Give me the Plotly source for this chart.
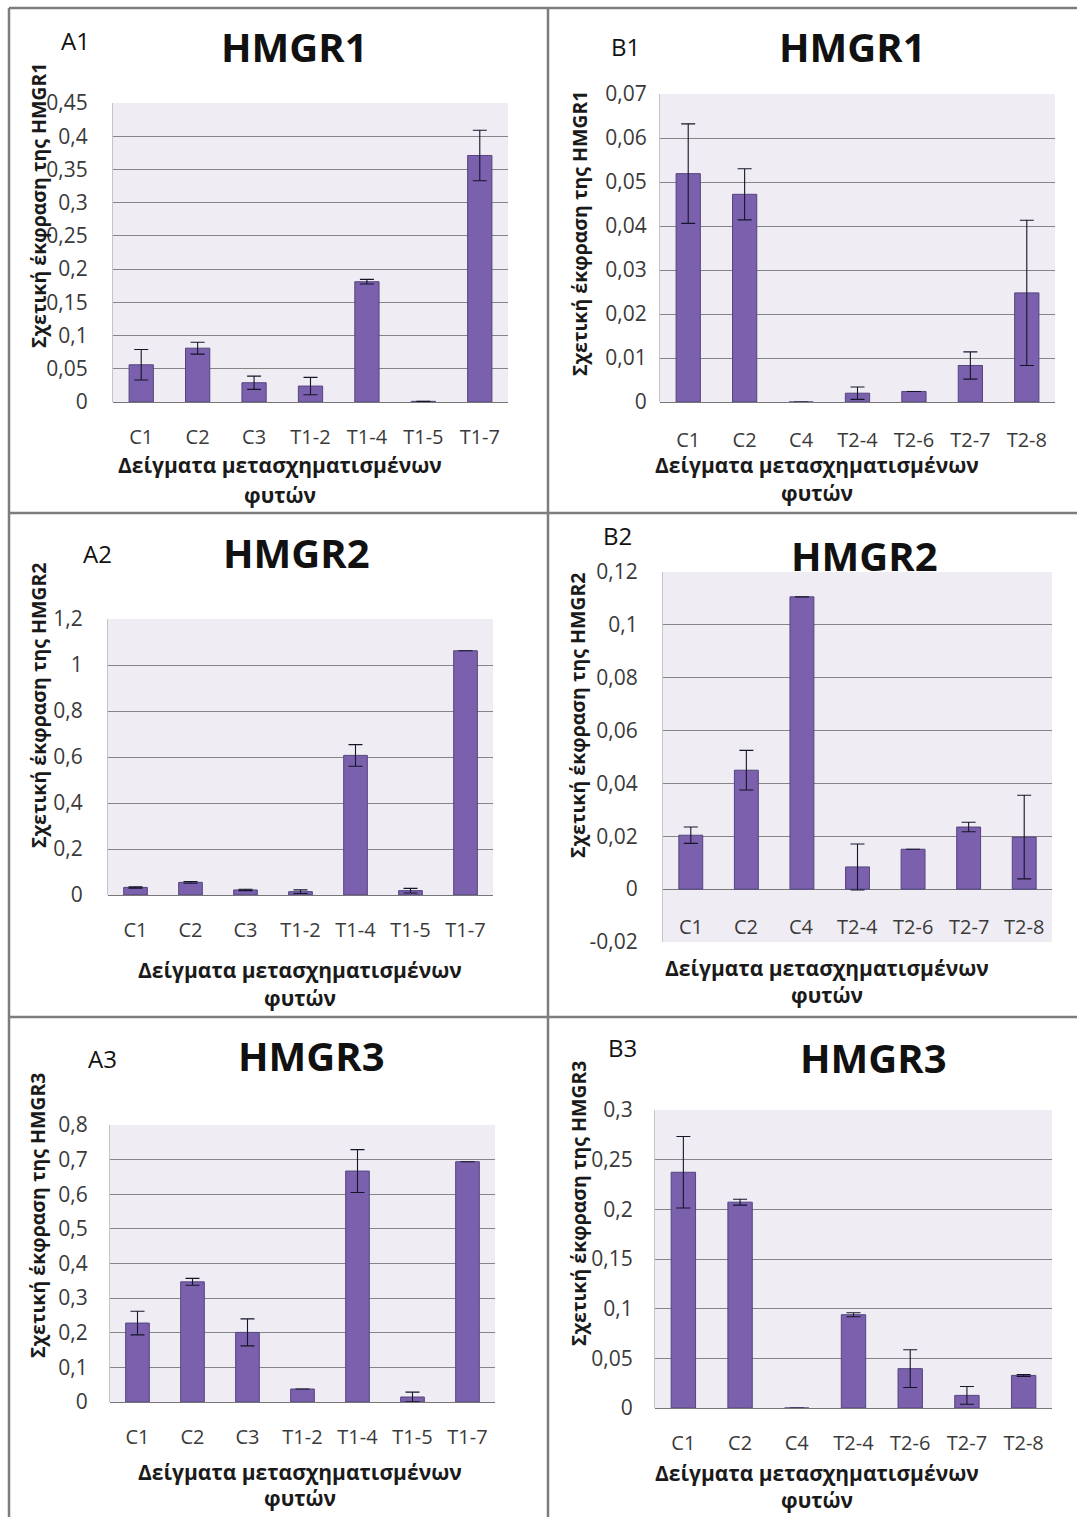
import plotly.graph_objects as go

W, H = 1077, 1517

# ---------------- data ----------------
cats_A = ["C1", "C2", "C3", "T1-2", "T1-4", "T1-5", "T1-7"]
cats_B = ["C1", "C2", "C4", "T2-4", "T2-6", "T2-7", "T2-8"]

a1_vals = [0.056, 0.081, 0.029, 0.024, 0.181, 0.001, 0.371]
a1_err = [0.023, 0.009, 0.010, 0.013, 0.0035, 0.0, 0.038]

b1_vals = [0.0519, 0.0472, 0.0, 0.0020, 0.0024, 0.0083, 0.0248]
b1_err = [0.0113, 0.0058, 0.0, 0.0014, 0.0, 0.0031, 0.0165]

a2_vals = [0.033, 0.055, 0.022, 0.0145, 0.607, 0.019, 1.062]
a2_err = [0.003, 0.004, 0.003, 0.008, 0.047, 0.010, 0.0]

b2_vals = [0.0204, 0.0450, 0.1106, 0.0084, 0.0151, 0.0235, 0.0197]
b2_err = [0.0031, 0.0075, 0.0, 0.0087, 0.0, 0.0018, 0.0158]

a3_vals = [0.228, 0.347, 0.201, 0.0375, 0.667, 0.0144, 0.694]
a3_err = [0.034, 0.010, 0.039, 0.0, 0.062, 0.014, 0.0]

b3_vals = [0.2373, 0.2072, 0.0, 0.0939, 0.0396, 0.0127, 0.0328]
b3_err = [0.036, 0.003, 0.0, 0.002, 0.019, 0.009, 0.001]

a1_ticks = [0, 0.05, 0.1, 0.15, 0.2, 0.25, 0.3, 0.35, 0.4, 0.45]
b1_ticks = [0, 0.01, 0.02, 0.03, 0.04, 0.05, 0.06, 0.07]
a2_ticks = [0, 0.2, 0.4, 0.6, 0.8, 1, 1.2]
b2_ticks = [-0.02, 0, 0.02, 0.04, 0.06, 0.08, 0.1, 0.12]
a3_ticks = [0, 0.1, 0.2, 0.3, 0.4, 0.5, 0.6, 0.7, 0.8]
b3_ticks = [0, 0.05, 0.1, 0.15, 0.2, 0.25, 0.3]

titles = ["HMGR1", "HMGR1", "HMGR2", "HMGR2", "HMGR3", "HMGR3"]
panel_labels = ["A1", "B1", "A2", "B2", "A3", "B3"]
y_titles = ["Σχετική έκφραση της HMGR1", "Σχετική έκφραση της HMGR1",
            "Σχετική έκφραση της HMGR2", "Σχετική έκφραση της HMGR2",
            "Σχετική έκφραση της HMGR3", "Σχετική έκφραση της HMGR3"]
x_title_1 = "Δείγματα μετασχηματισμένων"
x_title_2 = "φυτών"

# ---------------- layout (pixel geometry) ----------------
FONT = "Open Sans, Liberation Sans, sans-serif"
BAR = "#7a60ad"
BAR_LINE = "#54457e"
TICK_COL = "#3a3a3a"

panels = [
    dict(cats=cats_A, vals=a1_vals, err=a1_err, ticks=a1_ticks,
         box=(113, 103, 508, 402), ytpad=24, xtpad=21,
         title=(294, 47), lab=(75, 40), ytitle=(39, 205), xt=(280, 465, 495)),
    dict(cats=cats_B, vals=b1_vals, err=b1_err, ticks=b1_ticks,
         box=(660, 94, 1055, 402), ytpad=12, xtpad=24,
         title=(852, 47), lab=(625, 46), ytitle=(580, 233), xt=(817, 465, 493)),
    dict(cats=cats_A, vals=a2_vals, err=a2_err, ticks=a2_ticks,
         box=(108, 619, 493, 895), ytpad=24, xtpad=21,
         title=(296, 552), lab=(97, 553), ytitle=(38, 705), xt=(300, 970, 998)),
    dict(cats=cats_B, vals=b2_vals, err=b2_err, ticks=b2_ticks,
         box=(663, 572, 1052, 942), ytpad=24, xtpad=21,
         title=(864, 555), lab=(617, 535), ytitle=(577, 715), xt=(827, 968, 995)),
    dict(cats=cats_A, vals=a3_vals, err=a3_err, ticks=a3_ticks,
         box=(110, 1125, 495, 1402), ytpad=21, xtpad=21,
         title=(311, 1055), lab=(102, 1058), ytitle=(37, 1215), xt=(300, 1472, 1498)),
    dict(cats=cats_B, vals=b3_vals, err=b3_err, ticks=b3_ticks,
         box=(655, 1110, 1052, 1408), ytpad=21, xtpad=21,
         title=(873, 1057), lab=(622, 1047), ytitle=(578, 1203), xt=(817, 1473, 1500)),
]


def fmt(v):
    return ("%g" % v).replace(".", ",")


def px(x):
    return x / W


def py(y):
    return 1 - y / H


fig = go.Figure()
annotations = []
layout_axes = {}

for i, p in enumerate(panels):
    n = "" if i == 0 else str(i + 1)
    xa, ya = "x" + n, "y" + n
    x0, y0, x1, y1 = p["box"]
    inside_labels = p["ticks"][0] < 0

    fig.add_trace(go.Bar(
        x=p["cats"], y=p["vals"], xaxis=xa, yaxis=ya,
        marker=dict(color=BAR, line=dict(color=BAR_LINE, width=1)),
        error_y=dict(type="data", array=p["err"], visible=True,
                     color="#15152a", thickness=1.1, width=7),
        showlegend=False,
    ))

    layout_axes["xaxis" + n] = dict(
        domain=[px(x0), px(x1)], anchor=ya, type="category",
        categoryorder="array", categoryarray=p["cats"],
        showgrid=False, zeroline=False, showline=False, ticks="",
        showticklabels=not inside_labels, ticklabelstandoff=p["xtpad"],
        tickfont=dict(family=FONT, size=20, color=TICK_COL),
        automargin=False, fixedrange=True,
    )
    layout_axes["yaxis" + n] = dict(
        domain=[py(y1), py(y0)], anchor=xa,
        range=[p["ticks"][0], p["ticks"][-1]],
        tickvals=p["ticks"], ticktext=[fmt(v) for v in p["ticks"]],
        showgrid=True, gridcolor="#858585", gridwidth=1,
        zeroline=True, zerolinecolor="#777777", zerolinewidth=1.2,
        showline=True, linecolor="#c4c4c8", linewidth=1,
        ticks="", ticklabelstandoff=p["ytpad"] - 4,
        tickfont=dict(family=FONT, size=21, color=TICK_COL),
        automargin=False, fixedrange=True,
    )

    if inside_labels:
        for c in p["cats"]:
            annotations.append(dict(
                x=c, y=-0.0142, xref=xa, yref=ya, text=c, showarrow=False,
                font=dict(family=FONT, size=20, color=TICK_COL),
                xanchor="center", yanchor="middle"))

    tx, ty = p["title"]
    annotations.append(dict(x=px(tx), y=py(ty), xref="paper", yref="paper",
                            text="<b>%s</b>" % titles[i], showarrow=False,
                            font=dict(family=FONT, size=40, color="#111111"),
                            xanchor="center", yanchor="middle"))
    lx, ly = p["lab"]
    annotations.append(dict(x=px(lx), y=py(ly), xref="paper", yref="paper",
                            text=panel_labels[i], showarrow=False,
                            font=dict(family=FONT, size=24, color="#111111"),
                            xanchor="center", yanchor="middle"))
    yx, yy = p["ytitle"]
    annotations.append(dict(x=px(yx), y=py(yy), xref="paper", yref="paper",
                            text="<b>%s</b>" % y_titles[i], showarrow=False,
                            textangle=-90,
                            font=dict(family=FONT, size=19.5, color="#1a1a1a"),
                            xanchor="center", yanchor="middle"))
    cx, l1, l2 = p["xt"]
    annotations.append(dict(x=px(cx), y=py(l1), xref="paper", yref="paper",
                            text="<b>%s</b>" % x_title_1, showarrow=False,
                            font=dict(family=FONT, size=21, color="#1a1a1a"),
                            xanchor="center", yanchor="middle"))
    annotations.append(dict(x=px(cx), y=py(l2), xref="paper", yref="paper",
                            text="<b>%s</b>" % x_title_2, showarrow=False,
                            font=dict(family=FONT, size=21, color="#1a1a1a"),
                            xanchor="center", yanchor="middle"))

# panel frame lines
frame = [
    (9, 8, W, 8), (9, 8, 9, H), (548, 8, 548, H),
    (9, 513, W, 513), (9, 1017, W, 1017),
]
shapes = [dict(type="line", xref="paper", yref="paper",
               x0=px(a), y0=py(b), x1=px(c), y1=py(d),
               line=dict(color="#7d7d7d", width=2.5)) for a, b, c, d in frame]

fig.update_layout(
    width=W, height=H,
    autosize=False,
    margin=dict(l=0, r=0, t=0, b=0, pad=0, autoexpand=False),
    paper_bgcolor="white",
    plot_bgcolor="#efedf3",
    bargap=0.57,
    separators=",.",
    annotations=annotations,
    shapes=shapes,
    **layout_axes,
)

fig.write_html(
    "out.html",
    config={"displayModeBar": False},
    post_script="document.body.style.margin='0';document.body.style.overflow='hidden';",
)
